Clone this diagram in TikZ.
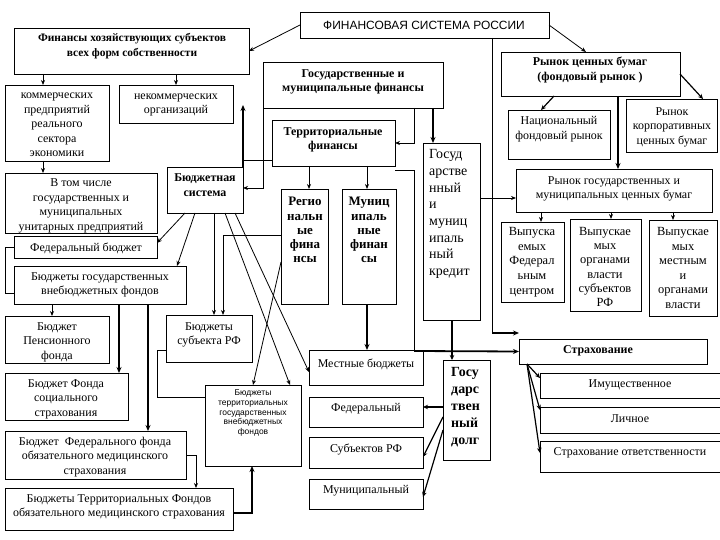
\documentclass[tikz,border=0pt]{standalone}
\usepackage{fontspec}
\setmainfont{Liberation Serif}
\setsansfont{Liberation Sans}
\usetikzlibrary{arrows.meta,fit}
\newcommand\mkbox[5]{\coordinate (#1-a) at (#2,#3); \coordinate (#1-b) at (#4,#5); \node[bx, fit=(#1-a)(#1-b)] (#1) {};}
\begin{document}
\begin{tikzpicture}[x=1bp,y=-1bp,
 bx/.style={draw, line width=0.8bp, inner sep=0pt, outer sep=0pt},
 t/.style={inner sep=0pt, align=center, font=\fontsize{12}{14.5}\selectfont},
 tb/.style={inner sep=0pt, align=center, font=\bfseries\fontsize{12}{14.5}\selectfont},
 ln/.style={line width=0.8bp},
 ar/.style={line width=0.8bp, -{Stealth[length=5bp,width=4bp]}},
 arM/.style={line width=1.2bp, -{Stealth[length=5bp,width=4.5bp]}},
 arT/.style={line width=1.8bp, -{Stealth[length=6bp,width=5bp]}},
]
\useasboundingbox (0,0) rectangle (720,540);
\fill[white] (0,0) rectangle (720,540);
% boxes
\mkbox{fin}{300}{12}{549}{38}
\mkbox{fh}{14}{28}{249}{74}
\mkbox{kom}{5}{85}{109}{161}
\mkbox{nek}{119}{85}{233}{123}
\mkbox{vtch}{5}{173}{157}{233}
\mkbox{bs}{167}{167}{243}{213}
\mkbox{fb}{14}{236}{157}{258}
\mkbox{gvf}{14}{266}{186}{304}
\mkbox{pf}{5}{316}{109}{363}
\mkbox{bsub}{166}{315}{252}{362}
\mkbox{fss}{5}{373}{128}{420}
\mkbox{ffoms}{5}{431}{186}{479}
\mkbox{tfoms}{5}{488}{233}{530}
\mkbox{tgvf}{205}{385}{301}{466}
\mkbox{gmf}{263}{62}{443}{108}
\mkbox{tf}{272}{120}{395}{166}
\mkbox{rf}{281}{189}{328}{304}
\mkbox{mf}{342}{189}{396}{304}
\mkbox{gk}{423}{143}{480}{320}
\mkbox{mb}{309}{350}{423}{385}
\mkbox{fed}{309}{397}{423}{427}
\mkbox{sub}{309}{437}{423}{468}
\mkbox{mun}{309}{479}{423}{509}
\mkbox{gd}{443}{360}{490}{460}
\mkbox{rcb}{501}{52}{680}{96}
\mkbox{nfr}{508}{110}{610}{159}
\mkbox{rkb}{626}{99}{717}{152}
\mkbox{rgm}{516}{169}{712}{212}
\mkbox{vf}{501}{222}{564}{302}
\mkbox{vs}{570}{219}{641}{311}
\mkbox{vm}{649}{220}{717}{316}
\mkbox{str}{519}{339}{707}{364}
\mkbox{im}{540}{373}{722}{398}
\mkbox{li}{540}{407}{722}{433}
\mkbox{so}{540}{441}{722}{472}
% texts
\node[inner sep=0pt, font=\sffamily\fontsize{12}{14}\selectfont] (t-fin) at (424,25) {ФИНАНСОВАЯ СИСТЕМА РОССИИ};
\node[tb, font=\bfseries\fontsize{11.5}{14.5}\selectfont] (t-fh) at (132,46) {Финансы хозяйствующих субъектов\\всех форм собственности};
\node[t] (t-kom) at (57,125) {коммерческих\\предприятий\\реального\\сектора\\экономики};
\node[t] (t-nek) at (176,105) {некоммерческих\\организаций};
\node[t] (t-vtch) at (81,206) {В том числе\\государственных и\\муниципальных\\унитарных предприятий};
\node[tb] (t-bs) at (205,185) {Бюджетная\\система};
\node[t] (t-fb) at (86,248) {Федеральный бюджет};
\node[t] (t-gvf) at (100,285) {Бюджеты государственных\\внебюджетных фондов};
\node[t] (t-pf) at (57,342) {Бюджет\\Пенсионного\\фонда};
\node[t] (t-bsub) at (209,335) {Бюджеты\\субъекта РФ};
\node[t] (t-fss) at (66,399) {Бюджет Фонда\\социального\\страхования};
\node[t] (t-ffoms) at (95,457) {Бюджет~ Федерального фонда\\обязательного медицинского\\страхования};
\node[t] (t-tfoms) at (119,507) {Бюджеты Территориальных Фондов\\обязательного медицинского страхования};
\node[t, font=\sffamily\fontsize{8.5}{10}\selectfont] (t-tgvf) at (253,413) {Бюджеты\\территориальных\\государственных\\внебюджетных\\фондов};
\node[tb] (t-gmf) at (353,82) {Государственные и\\муниципальные финансы};
\node[tb] (t-tf) at (333,140) {Территориальные\\финансы};
\node[tb, font=\bfseries\fontsize{13}{14.2}\selectfont] (t-rf) at (305,230) {Регио\\нальн\\ые\\фина\\нсы};
\node[tb, font=\bfseries\fontsize{13}{14.2}\selectfont] (t-mf) at (369,230) {Муниц\\ипаль\\ные\\финан\\сы};
\node[t, align=left, anchor=west, font=\fontsize{14}{16.7}\selectfont] (t-gk) at (429,214) {Госуд\\арстве\\нный\\и\\муниц\\ипаль\\ный\\кредит};
\node[t] (t-mb) at (366,364) {Местные бюджеты};
\node[t] (t-fed) at (366,409) {Федеральный};
\node[t] (t-sub) at (366,450) {Субъектов РФ};
\node[t] (t-mun) at (366,491) {Муниципальный};
\node[tb, align=left, anchor=west, font=\bfseries\fontsize{14}{17.2}\selectfont] (t-gd) at (451,407) {Госу\\дарс\\твен\\ный\\долг};
\node[tb] (t-rcb) at (590,70) {Рынок ценных бумаг\\(фондовый рынок )};
\node[t] (t-nfr) at (559,129) {Национальный\\фондовый рынок};
\node[t] (t-rkb) at (672,127) {Рынок\\корпоративных\\ценных бумаг};
\node[t] (t-rgm) at (614,189) {Рынок государственных и\\муниципальных ценных бумаг};
\node[t, font=\fontsize{12.5}{14.7}\selectfont] (t-vf) at (532,262) {Выпуска\\емых\\Федерал\\ьным\\центром};
\node[t, font=\fontsize{12.5}{14.3}\selectfont] (t-vs) at (605,267) {Выпускае\\мых\\органами\\власти\\субъектов\\РФ};
\node[t, font=\fontsize{12.5}{14.5}\selectfont] (t-vm) at (683,268) {Выпускае\\мых\\местным\\и\\органами\\власти};
\node[tb] (t-str) at (598,351) {Страхование};
\node[t] (t-im) at (630,385) {Имущественное};
\node[t] (t-li) at (630,419) {Личное};
\node[t] (t-so) at (630,453) {Страхование ответственности};
% connectors top
\draw[ar] (fin.west) -- (fh.east |- 0,51);
\draw[ar] (fin.east) -- (rcb.north -| 586,0);
\draw[ln] (fin.south -| 492,0) -- (492,333) coordinate (c-fs);
\draw[arT] (c-fs) -- (str.west |- 0,333);
\draw[ln] (tf.east |- 0,170) -- (414,170) coordinate (c-tm1) -- (414,351) coordinate (c-tm2);
\draw[arT] (c-tm2) -- (str.west);
\draw[ar] (gmf.south -| 414,0) -- (414,143) -- (tf.east |- 0,143);
\draw[arT] (gmf.south -| 433,0) -- (gk.north -| 433,0);
\draw[ar] (gmf.south west) -- (263,188) -- (bs.east |- 0,188);
\draw[arT] (bs.north east) -- ++(0,-62) coordinate (c-up);
\draw[ln] (tf.west |- 0,160) -- (bs.north east |- 0,160);
\draw[ar] (tf.south -| 309,0) -- (rf.north -| 309,0);
\draw[ar] (tf.south -| 367,0) -- (mf.north -| 367,0);
\draw[arT] (mf.south -| 367,0) -- (mb.north -| 367,0);
\draw[arM] (gk.south -| 452,0) -- (gd.north -| 452,0);
\draw[ar] (gk.east |- 0,198) -- (rgm.west |- 0,198);
\draw[arM] (gd.west |- 0,407) -- (fed.east |- 0,407);
\draw[arM] (gd.west |- 0,417) -- (sub.east |- 0,457);
\draw[arM] (gd.west |- 0,430) -- (mun.east |- 0,497);
\draw[arM] (rcb.south -| 554,0) -- (nfr.north -| 541,0);
\draw[arM] (rcb.east) -- (rkb.north -| 703,0);
\draw[arT] (rcb.south -| 618,0) -- (rgm.north -| 618,0);
\draw[ar] (rgm.south -| 541,0) -- (vf.north -| 541,0);
\draw[ar] (rgm.south -| 611,0) -- (vs.north -| 611,0);
\draw[ar] (rgm.south -| 673,0) -- (vm.north -| 673,0);
\draw[arM] (str.south -| 527,0) -- (im.west |- 0,378);
\draw[arM] (str.south -| 527,0) -- (li.west |- 0,410);
\draw[arM] (str.south -| 527,0) -- (so.west |- 0,453);
% connectors left
\draw[ar] (fh.south -| 43,0) -- (kom.north -| 43,0);
\draw[ar] (fh.south -| 176,0) -- (nek.north -| 176,0);
\draw[ar] (kom.south -| 43,0) -- (vtch.north -| 43,0);
\draw[ar] (bs.south -| 185,0) -- (fb.east |- 0,243);
\draw[ar] (bs.south -| 195,0) -- (gvf.north -| 177,0);
\draw[ar] (bs.south -| 214,0) -- (bsub.north -| 214,0);
\draw[ar] (rf.west |- 0,235) -- (223,235) -- (bsub.north -| 223,0);
\draw[ar] (bs.south -| 235,0) -- (mb.west |- 0,372);
\draw[ar] (bs.south -| 225,0) -- (tgvf.north -| 290,0);
\draw[ar] (rf.west |- 0,262) -- (tgvf.north -| 253,0);
\draw[ar] (gvf.south -| 52,0) -- (pf.north -| 52,0);
\draw[arT] (gvf.south -| 119,0) -- (fss.north -| 119,0);
\draw[arT] (gvf.south -| 148,0) -- (ffoms.north -| 148,0);
\draw[ar] (ffoms.east |- 0,455) -- (196,455) -- (tfoms.north -| 196,0);
\draw[arT] (tfoms.east |- 0,513) -- (252,513) -- (tgvf.south -| 252,0);
\draw[ln] (fb.west) -- (5,247) -- (5,293) -- (gvf.west |- 0,293);
\draw[ln] (bsub.west |- 0,350) -- (157,350) -- (157,397) -- (tgvf.west |- 0,397);
\end{tikzpicture}
\end{document}
